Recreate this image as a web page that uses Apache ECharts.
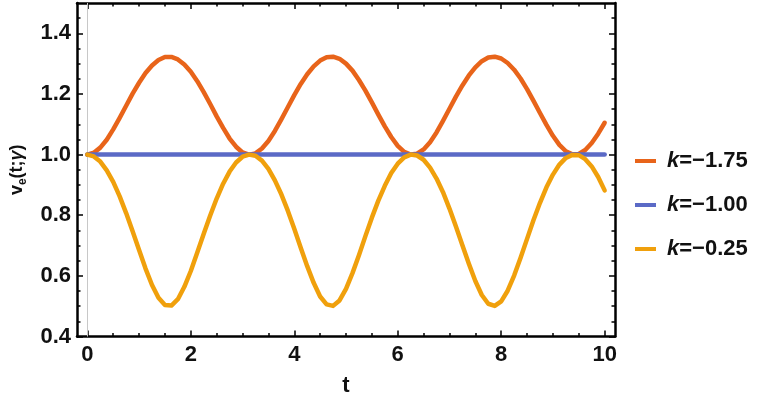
<!DOCTYPE html>
<html>
<head>
<meta charset="utf-8">
<script src="https://cdn.jsdelivr.net/npm/echarts@6/dist/echarts.min.js"></script>
<style>
  html, body { margin: 0; padding: 0; background: #fff; }
  #chart { width: 763px; height: 404px; }
</style>
</head>
<body>
<div id="chart"></div>
<script>
// t samples (every 0.125)
var tValues = [0, 0.125, 0.25, 0.375, 0.5, 0.625, 0.75, 0.875, 1, 1.125, 1.25, 1.375, 1.5, 1.625, 1.75, 1.875,
  2, 2.125, 2.25, 2.375, 2.5, 2.625, 2.75, 2.875, 3, 3.125, 3.25, 3.375, 3.5, 3.625, 3.75, 3.875,
  4, 4.125, 4.25, 4.375, 4.5, 4.625, 4.75, 4.875, 5, 5.125, 5.25, 5.375, 5.5, 5.625, 5.75, 5.875,
  6, 6.125, 6.25, 6.375, 6.5, 6.625, 6.75, 6.875, 7, 7.125, 7.25, 7.375, 7.5, 7.625, 7.75, 7.875,
  8, 8.125, 8.25, 8.375, 8.5, 8.625, 8.75, 8.875, 9, 9.125, 9.25, 9.375, 9.5, 9.625, 9.75, 9.875, 10];
// k = -1.75 (orange)
var kNeg175 = [1.000, 1.006, 1.023, 1.049, 1.083, 1.121, 1.161, 1.201, 1.237, 1.269, 1.294, 1.312, 1.322, 1.322, 1.314, 1.297,
  1.273, 1.242, 1.206, 1.167, 1.126, 1.088, 1.053, 1.026, 1.007, 1.000, 1.004, 1.020, 1.045, 1.078, 1.116, 1.156,
  1.196, 1.233, 1.265, 1.291, 1.310, 1.321, 1.323, 1.316, 1.300, 1.277, 1.246, 1.211, 1.172, 1.132, 1.093, 1.058,
  1.029, 1.009, 1.000, 1.003, 1.017, 1.041, 1.073, 1.111, 1.151, 1.191, 1.228, 1.261, 1.288, 1.308, 1.320, 1.323,
  1.317, 1.302, 1.280, 1.251, 1.216, 1.177, 1.137, 1.098, 1.062, 1.032, 1.011, 1.001, 1.002, 1.015, 1.038, 1.069, 1.105];
// k = -1.00 (blue), flat
var kNeg100 = [1, 1, 1, 1, 1, 1, 1, 1, 1, 1, 1, 1, 1, 1, 1, 1,
  1, 1, 1, 1, 1, 1, 1, 1, 1, 1, 1, 1, 1, 1, 1, 1,
  1, 1, 1, 1, 1, 1, 1, 1, 1, 1, 1, 1, 1, 1, 1, 1,
  1, 1, 1, 1, 1, 1, 1, 1, 1, 1, 1, 1, 1, 1, 1, 1,
  1, 1, 1, 1, 1, 1, 1, 1, 1, 1, 1, 1, 1, 1, 1, 1, 1];
// k = -0.25 (yellow)
var kNeg025 = [1.000, 0.994, 0.977, 0.948, 0.910, 0.862, 0.807, 0.747, 0.685, 0.624, 0.570, 0.528, 0.504, 0.502, 0.523, 0.564,
  0.616, 0.677, 0.739, 0.799, 0.855, 0.904, 0.944, 0.974, 0.993, 1.000, 0.996, 0.980, 0.953, 0.915, 0.869, 0.815,
  0.755, 0.693, 0.632, 0.577, 0.532, 0.506, 0.501, 0.519, 0.557, 0.609, 0.668, 0.731, 0.792, 0.848, 0.897, 0.939,
  0.970, 0.991, 1.000, 0.997, 0.983, 0.957, 0.921, 0.876, 0.822, 0.763, 0.701, 0.640, 0.583, 0.537, 0.508, 0.501,
  0.516, 0.551, 0.601, 0.660, 0.722, 0.784, 0.841, 0.892, 0.934, 0.967, 0.989, 0.999, 0.998, 0.985, 0.961, 0.926, 0.882];

var seriesNames = ['k=\u22121.75', 'k=\u22121.00', 'k=\u22120.25'];
var seriesColors = ['#E8641A', '#5B6AC6', '#F0A00C'];

var xMajor = [0, 2, 4, 6, 8, 10];
var xMinor = [0.5, 1, 1.5, 2.5, 3, 3.5, 4.5, 5, 5.5, 6.5, 7, 7.5, 8.5, 9, 9.5];
var yMajor = [0.4, 0.6, 0.8, 1.0, 1.2, 1.4];
var yMinor = [0.45, 0.5, 0.55, 0.65, 0.7, 0.75, 0.85, 0.9, 0.95, 1.05, 1.1, 1.15, 1.25, 1.3, 1.35, 1.45];

var chart = echarts.init(document.getElementById('chart'));

var FONT = '"Liberation Sans", Arial, sans-serif';

function pairs(ys) {
  return tValues.map(function (t, i) { return [t, ys[i]]; });
}

function xAxisDef(pos, ticks, len, withLabel, showLine) {
  return {
    type: 'value', gridIndex: 0, position: pos, min: -0.2, max: 10.2,
    axisLine: { show: showLine, onZero: false, lineStyle: { color: '#000', width: 2.5 } },
    axisTick: { show: true, inside: true, length: len, customValues: ticks, lineStyle: { color: '#000', width: 1.5 } },
    axisLabel: withLabel ? {
      show: true, customValues: ticks, margin: 7, color: '#111',
      fontFamily: FONT, fontWeight: 'bold', fontSize: 22,
      formatter: function (v) { return String(Math.round(v)); }
    } : { show: false },
    splitLine: { show: false },
    name: withLabel ? 't' : '',
    nameLocation: 'middle', nameGap: 38,
    nameTextStyle: { fontFamily: FONT, fontWeight: 'bold', fontSize: 22, color: '#111' }
  };
}

function yAxisDef(pos, ticks, len, withLabel, showLine) {
  return {
    type: 'value', gridIndex: 0, position: pos, min: 0.4, max: 1.5,
    axisLine: { show: showLine, onZero: false, lineStyle: { color: '#000', width: 2.5 } },
    axisTick: { show: true, inside: true, length: len, customValues: ticks, lineStyle: { color: '#000', width: 1.5 } },
    axisLabel: withLabel ? {
      show: true, customValues: ticks, margin: 6, color: '#111',
      fontFamily: FONT, fontWeight: 'bold', fontSize: 22,
      formatter: function (v) { return v.toFixed(1); }
    } : { show: false },
    splitLine: { show: false },
    name: withLabel ? '{v|v}{e|e}{p|(t;}{g|\u03B3}{p|)}' : '',
    nameLocation: 'middle', nameGap: 48, nameRotate: 90,
    nameTextStyle: {
      color: '#111',
      rich: {
        v: { fontFamily: FONT, fontWeight: 'bold', fontSize: 18, color: '#111', lineHeight: 23 },
        e: { fontFamily: FONT, fontWeight: 'bold', fontSize: 12, color: '#111', verticalAlign: 'bottom', lineHeight: 23, padding: [9, 0, 0, 0] },
        p: { fontFamily: FONT, fontWeight: 'bold', fontSize: 18, color: '#111', lineHeight: 23 },
        g: { fontFamily: FONT, fontWeight: 'bold', fontStyle: 'italic', fontSize: 18, color: '#111', lineHeight: 23 }
      }
    }
  };
}

var series = [kNeg175, kNeg100, kNeg025].map(function (ys, i) {
  var s = {
    name: seriesNames[i],
    type: 'line',
    xAxisIndex: 0, yAxisIndex: 0,
    data: pairs(ys),
    smooth: false,
    showSymbol: false,
    symbol: 'none',
    color: seriesColors[i],
    lineStyle: { width: 4.5, color: seriesColors[i], join: 'round', cap: 'round' },
    z: 3 + i
  };
  if (i === 0) {
    s.markLine = {
      silent: true, symbol: 'none', label: { show: false },
      lineStyle: { color: '#c8c8c8', width: 1, type: 'solid' },
      data: [{ xAxis: 0 }], z: 1
    };
  }
  return s;
});

chart.setOption({
  animation: false,
  backgroundColor: '#fff',
  grid: { left: 76, right: 148, top: 3, bottom: 67.5, containLabel: false },
  xAxis: [
    xAxisDef('bottom', xMajor, 6, true, true),
    xAxisDef('bottom', xMinor, 3.5, false, false),
    xAxisDef('top', xMajor, 6, false, true),
    xAxisDef('top', xMinor, 3.5, false, false)
  ],
  yAxis: [
    yAxisDef('left', yMajor, 6, true, true),
    yAxisDef('left', yMinor, 3.5, false, false),
    yAxisDef('right', yMajor, 6, false, true),
    yAxisDef('right', yMinor, 3.5, false, false)
  ],
  legend: {
    orient: 'vertical',
    left: 630, top: 145,
    itemWidth: 21, itemHeight: 4, itemGap: 22,
    icon: 'rect',
    data: seriesNames,
    formatter: function (name) { return '{i|k}{n|' + name.slice(1) + '}'; },
    textStyle: {
      padding: [0, 0, 0, 6],
      rich: {
        i: { fontFamily: FONT, fontStyle: 'italic', fontWeight: 'bold', fontSize: 22, color: '#111' },
        n: { fontFamily: FONT, fontWeight: 'bold', fontSize: 22, color: '#111' }
      }
    }
  },
  series: series
});
</script>
</body>
</html>
